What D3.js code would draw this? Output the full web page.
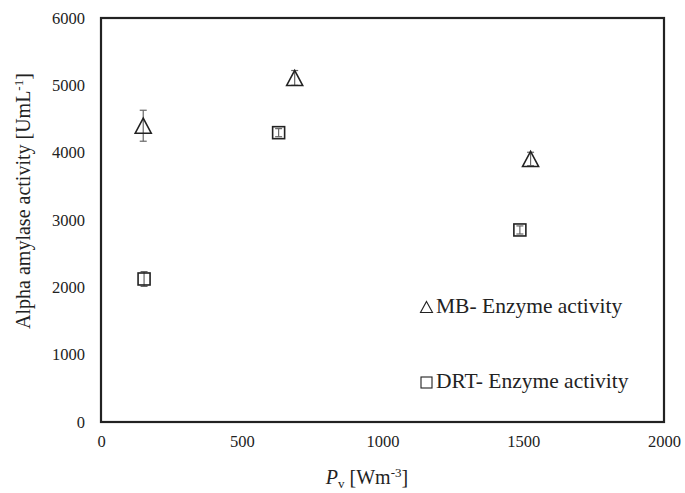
<!DOCTYPE html>
<html><head><meta charset="utf-8">
<script src="https://cdn.jsdelivr.net/npm/d3@7"></script>
<style>body{margin:0;background:#fff;} text{font-family:"Liberation Serif","Times New Roman",serif;fill:#222;}</style>
</head><body>
<svg id="c" width="685" height="493"></svg>
<script>
const xTicks = [0, 500, 1000, 1500, 2000];
const yTicks = [0, 1000, 2000, 3000, 4000, 5000, 6000];
const mbX = [150, 688, 1526];
const mbY = [4400, 5110, 3906];
const mbErr = [230, 110, 100];
const drtX = [153, 631, 1488];
const drtY = [2124, 4297, 2852];
const drtErr = [110, 60, 60];
const legendLabels = ["MB- Enzyme activity", "DRT- Enzyme activity"];

const svg = d3.select("#c");
const L = 101, R = 664, T = 18, B = 422;
const x = d3.scaleLinear().domain([0, 2000]).range([L, R]);
const y = d3.scaleLinear().domain([0, 6000]).range([B, T]);

const xa = svg.append("g").attr("transform", `translate(0,${B})`)
  .call(d3.axisBottom(x).tickValues(xTicks).tickFormat(d3.format("d")).tickSize(0).tickPadding(13));
xa.select(".domain").remove();
xa.selectAll("text").style("font-size", "16.5px").attr("fill", "#222");
const ya = svg.append("g").attr("transform", `translate(${L},0)`)
  .call(d3.axisLeft(y).tickValues(yTicks).tickFormat(d3.format("d")).tickSize(0).tickPadding(16));
ya.select(".domain").remove();
ya.selectAll("text").style("font-size", "16.5px").attr("fill", "#222");

svg.append("rect").attr("x", L).attr("y", T).attr("width", R - L).attr("height", B - T)
  .attr("fill", "none").attr("stroke", "#222").attr("stroke-width", 2.2);

function errBars(xs, ys, es) {
  const g = svg.append("g").attr("stroke", "#666").attr("stroke-width", 1.2);
  xs.forEach((xv, i) => {
    const cx = x(xv), y1 = y(ys[i] + es[i]), y2 = y(ys[i] - es[i]);
    g.append("line").attr("x1", cx).attr("x2", cx).attr("y1", y1).attr("y2", y2);
    g.append("line").attr("x1", cx - 3.5).attr("x2", cx + 3.5).attr("y1", y1).attr("y2", y1);
    g.append("line").attr("x1", cx - 3.5).attr("x2", cx + 3.5).attr("y1", y2).attr("y2", y2);
  });
}
errBars(mbX, mbY, mbErr);
errBars(drtX, drtY, drtErr);

function tri(cx, cy, w, h) {
  return `M${cx},${cy - h / 2}L${cx + w / 2},${cy + h / 2}L${cx - w / 2},${cy + h / 2}Z`;
}
svg.append("g").selectAll("path").data(mbX).join("path")
  .attr("d", (d, i) => tri(x(d), y(mbY[i]), 16, 15))
  .attr("fill", "none").attr("stroke", "#222").attr("stroke-width", 1.6);
svg.append("g").selectAll("rect").data(drtX).join("rect")
  .attr("x", d => x(d) - 6).attr("y", (d, i) => y(drtY[i]) - 6)
  .attr("width", 12).attr("height", 12)
  .attr("fill", "none").attr("stroke", "#222").attr("stroke-width", 1.6);

// legend
svg.append("path").attr("d", tri(426.5, 307, 12, 11)).attr("fill", "none").attr("stroke", "#222").attr("stroke-width", 1.1);
svg.append("text").attr("x", 436).attr("y", 313).style("font-size", "21.5px").text(legendLabels[0]);
svg.append("rect").attr("x", 421).attr("y", 377).attr("width", 11).attr("height", 11).attr("fill", "none").attr("stroke", "#222").attr("stroke-width", 1.1);
svg.append("text").attr("x", 436).attr("y", 388).style("font-size", "21.5px").text(legendLabels[1]);

// axis titles
const xt = svg.append("text").attr("x", 367).attr("y", 484).attr("text-anchor", "middle").style("font-size", "20px");
xt.append("tspan").attr("font-style", "italic").text("P");
xt.append("tspan").attr("dy", 4).style("font-size", "13px").text("v");
xt.append("tspan").attr("dy", -4).text(" [Wm");
xt.append("tspan").attr("dy", -7).style("font-size", "13px").text("-3");
xt.append("tspan").attr("dy", 7).text("]");

const yt = svg.append("text").attr("transform", "translate(30,201) rotate(-90)").attr("text-anchor", "middle").style("font-size", "20px");
yt.append("tspan").text("Alpha amylase activity [UmL");
yt.append("tspan").attr("dy", -7).style("font-size", "13px").text("-1");
yt.append("tspan").attr("dy", 7).text("]");
</script>
</body></html>
